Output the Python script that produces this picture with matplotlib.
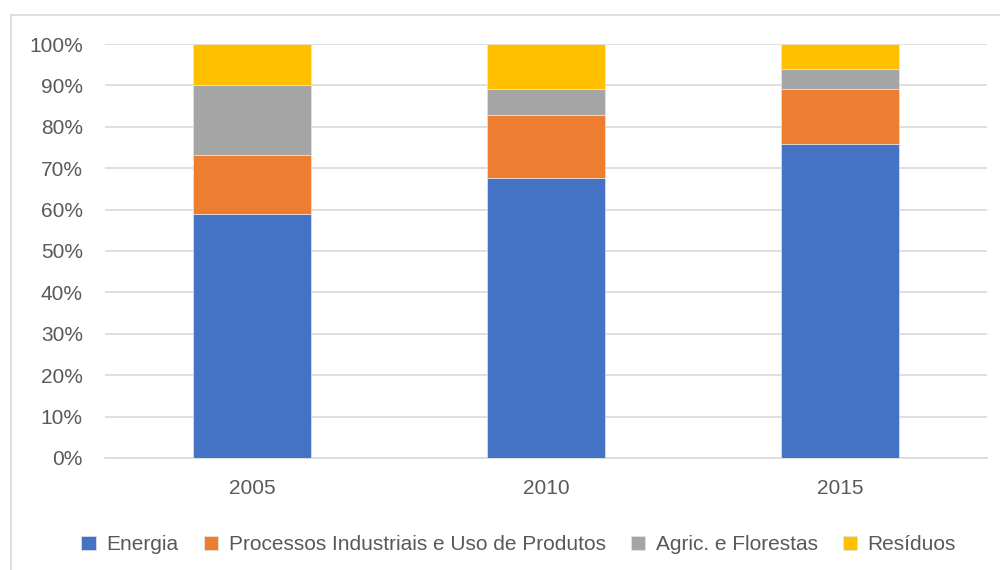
import matplotlib.pyplot as plt
import matplotlib.patches as mpatches
from matplotlib.ticker import PercentFormatter
import numpy as np

years = ['2005', '2010', '2015']
series = ['Energia', 'Processos Industriais e Uso de Produtos', 'Agric. e Florestas', 'Resíduos']
energia = [58.9, 67.6, 75.8]
processos = [14.2, 15.3, 13.4]
agric = [17.0, 6.3, 4.8]
residuos = [9.9, 10.8, 6.0]
colors = ['#4472C4', '#ED7D31', '#A5A5A5', '#FFC000']

plt.rcParams['font.family'] = ['Liberation Sans', 'DejaVu Sans']

fig = plt.figure(figsize=(10, 5.7), dpi=100)
ax = fig.add_axes([0.105, 0.1965, 0.882, 0.7263])

# outer chart border
fig.patches.append(mpatches.Rectangle((0.011, -0.1), 1.1, 1.074, transform=fig.transFigure,
                                      fill=False, edgecolor='#D9D9D9', linewidth=1.2))

x = np.arange(len(years))
bottom = np.zeros(len(years))
for name, vals, c in zip(series, [energia, processos, agric, residuos], colors):
    ax.bar(x, vals, width=0.4, bottom=bottom, color=c, label=name,
           edgecolor='#E6E6E6', linewidth=0.5, zorder=3)
    bottom += np.array(vals)

ax.set_xlim(-0.5, 2.5)
ax.set_ylim(0, 100)
ax.set_yticks(range(0, 101, 10))
ax.yaxis.set_major_formatter(PercentFormatter(decimals=0))
ax.set_xticks(x)
ax.set_xticklabels(years)
ax.grid(axis='y', color='#D9D9D9', linewidth=1.2, zorder=0)
for s in ['top', 'right', 'left']:
    ax.spines[s].set_visible(False)
ax.spines['bottom'].set_color('#D9D9D9')
ax.spines['bottom'].set_linewidth(1.2)
ax.tick_params(length=0, labelsize=15, labelcolor='#595959')
ax.tick_params(axis='x', pad=15)
ax.tick_params(axis='y', pad=16)

ax.legend(loc='center', bbox_to_anchor=(0.469, -0.21), ncol=4, frameon=False,
          fontsize=15, labelcolor='#595959', handlelength=0.7, handleheight=0.7,
          handletextpad=0.5, columnspacing=1.2)

fig.savefig('out.png', dpi=100)
